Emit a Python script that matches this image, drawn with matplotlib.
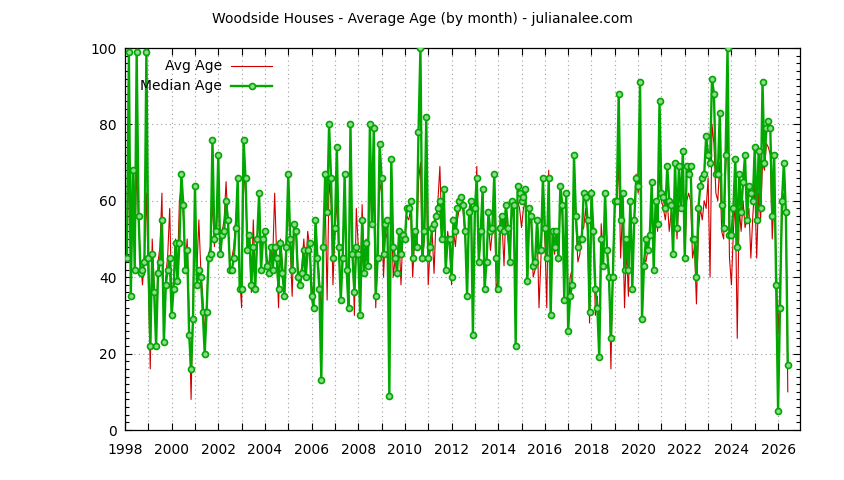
import numpy as np
import pandas as pd
import matplotlib
matplotlib.use("Agg")
import matplotlib.pyplot as plt
from matplotlib.lines import Line2D
from matplotlib.ticker import MultipleLocator, FuncFormatter

# monthly values, Feb 1998 .. mid 2026
start_month = "1998-02"

median_age = [
    45, 99, 35, 68, 42, 99, 56, 41, 42, 44, 99, 45, 22, 46, 36, 22, 41, 44, 55, 23,
    38, 42, 45, 30, 37, 49, 39, 49, 67, 59, 42, 47, 25, 16, 29, 64, 38, 42, 40, 31,
    20, 31, 45, 46, 76, 50, 52, 72, 46, 51, 52, 60, 55, 42,
    42, 45, 53, 66, 37, 37, 76, 66, 47, 51, 38, 48, 37, 50, 62, 42, 50, 52, 43, 41,
    48, 42, 48, 45, 37, 49, 41, 35, 48, 67, 50, 42, 54, 52, 40, 38, 41, 47, 40, 47,
    49, 35, 32, 55, 45, 37, 13, 48, 67, 57, 80, 66, 45, 53, 74, 48, 34, 45,
    67, 42, 32, 80, 46, 36, 48, 46, 30, 55, 41, 49, 43, 80, 54, 79, 35, 45, 75, 66,
    46, 54, 55, 9, 71, 48, 45, 41, 52, 46, 51, 50, 58, 58, 60, 45, 52, 48, 78, 100,
    45, 52, 82, 45, 48, 53, 54, 56, 58, 60, 50, 63, 42, 50, 50, 40, 55,
    52, 58, 60, 61, 59, 52, 35, 57, 60, 25, 58, 66, 44, 52, 63, 37, 44, 57, 52, 53,
    67, 45, 37, 53, 56, 52, 59, 53, 44, 60, 59, 22, 64, 62, 60, 61, 63, 39, 58, 56,
    43, 44, 55, 47, 47, 66, 53, 45, 66, 30, 52, 48, 52, 45, 64, 59, 34, 62, 26,
    35, 38, 72, 56, 48, 50, 50, 62, 61, 55, 31, 62, 52, 37, 32, 19, 50, 43, 62, 47,
    40, 24, 40, 60, 60, 88, 55, 62, 42, 50, 42, 60, 37, 55, 66, 64, 91, 29, 43, 50,
    47, 51, 65, 42, 60, 54, 86, 62, 61, 58, 69, 60, 59, 46, 70,
    53, 69, 58, 73, 45, 69, 67, 69, 50, 50, 40, 58, 64, 66, 67, 77, 72, 70, 92, 88,
    67, 67, 83, 59, 53, 72, 100, 51, 51, 58, 71, 48, 67, 57, 65, 72, 55, 64, 62, 60,
    74, 55, 73, 58, 91, 70, 79, 81, 79, 56, 72, 38, 5, 32, 60, 70, 57, 17,
]

avg_age = [
    47, 70, 40, 62, 46, 68, 55, 44, 38, 46, 62, 40, 16, 50, 38, 26, 44, 48, 62, 28,
    40, 46, 58, 34, 39, 50, 42, 60, 64, 56, 44, 50, 30, 8, 34, 58, 42, 55, 42, 35,
    25, 33, 46, 48, 60, 48, 54, 62, 47, 52, 55, 65, 54, 44,
    45, 48, 55, 62, 40, 32, 68, 62, 49, 50, 36, 55, 40, 50, 58, 44, 50, 50, 45, 43,
    47, 45, 62, 46, 32, 50, 43, 38, 50, 60, 48, 35, 52, 53, 42, 40, 43, 50, 42, 52,
    48, 38, 35, 52, 46, 40, 30, 46, 60, 34, 65, 60, 38, 52, 60, 47, 36, 47,
    62, 44, 35, 68, 50, 30, 58, 48, 36, 59, 43, 50, 46, 65, 55, 60, 32, 47, 65, 62,
    40, 52, 50, 35, 60, 40, 45, 43, 50, 38, 52, 50, 56, 55, 58, 40, 50, 47, 65, 70,
    44, 50, 68, 38, 48, 52, 41, 55, 60, 69, 52, 58, 42, 52, 48, 38, 52,
    48, 55, 58, 60, 57, 50, 40, 55, 58, 35, 56, 69, 44, 50, 60, 40, 45, 55, 47, 52,
    62, 36, 40, 56, 54, 43, 58, 50, 46, 58, 55, 30, 60, 58, 53, 58, 60, 38, 55, 54,
    40, 42, 54, 32, 45, 62, 50, 32, 68, 37, 50, 46, 50, 44, 60, 56, 38, 58, 30,
    40, 42, 62, 54, 44, 46, 52, 53, 58, 52, 28, 63, 50, 30, 35, 25, 54, 45, 58, 48,
    42, 16, 44, 58, 60, 70, 45, 58, 32, 48, 35, 58, 42, 55, 67, 62, 66, 35, 45, 44,
    47, 52, 60, 45, 58, 52, 68, 60, 58, 55, 60, 52, 57, 48, 62,
    50, 62, 58, 68, 44, 60, 62, 60, 45, 48, 33, 52, 58, 55, 60, 58, 66, 40, 80, 75,
    62, 60, 70, 52, 50, 68, 79, 45, 38, 52, 60, 24, 58, 52, 60, 53, 55, 58, 45, 56,
    64, 45, 62, 55, 70, 68, 75, 74, 72, 50, 62, 45, 25, 38, 55, 62, 58, 10,
]

title = "Woodside Houses - Average Age (by month) - julianalee.com"
RED = "#d00000"
GREEN = "#00a800"
MARKER_FILL = "#8fd88f"

dates = pd.date_range(start_month, periods=len(median_age), freq="MS")
years = dates.year + (dates.month - 1) / 12.0

plt.rcParams["font.family"] = ["DejaVu Sans"]

fig = plt.figure(figsize=(8.44, 4.8), dpi=100)
ax = fig.add_axes([125 / 844, 50 / 480, 675 / 844, 382 / 480])

ax.plot(years, avg_age, color=RED, lw=0.8, zorder=2)
ax.plot(years, median_age, color=GREEN, lw=1.7, marker="o", ms=4.3,
        mfc=MARKER_FILL, mec=GREEN, mew=1.2, zorder=3)

ax.set_xlim(1998, 2026.94)
ax.set_ylim(0, 100)

ax.xaxis.set_major_locator(MultipleLocator(1))
ax.xaxis.set_major_formatter(FuncFormatter(
    lambda v, p: "%d" % round(v) if round(v) % 2 == 0 else ""))
ax.yaxis.set_major_locator(MultipleLocator(20))
ax.yaxis.set_minor_locator(MultipleLocator(2))

ax.tick_params(which="both", direction="in", top=True, right=True,
               labelsize=10, width=0.8)
ax.tick_params(which="major", length=5)
ax.tick_params(which="minor", length=3)
ax.tick_params(axis="x", pad=9)
ax.tick_params(axis="y", pad=6)

ax.grid(True, which="major", color="#a0a0a0", ls=(0, (1, 3)), lw=0.8)
ax.set_axisbelow(True)
for s in ax.spines.values():
    s.set_linewidth(0.9)

# gnuplot-style key: right-justified text, sample to the right
ax.text(0.1437, 0.953, "Avg Age", transform=ax.transAxes, ha="right",
        va="center", fontsize=10)
ax.text(0.1437, 0.9005, "Median Age", transform=ax.transAxes, ha="right",
        va="center", fontsize=10)
ax.add_line(Line2D([0.157, 0.218], [0.953, 0.953], transform=ax.transAxes,
                   color=RED, lw=0.8))
ax.add_line(Line2D([0.157, 0.218], [0.9005, 0.9005], transform=ax.transAxes,
                   color=GREEN, lw=1.7))
ax.add_line(Line2D([0.188], [0.9005], transform=ax.transAxes, color=GREEN,
                   marker="o", ms=4.3, mfc=MARKER_FILL, mew=1.2))

fig.text(0.5, 1 - 19 / 480, title, ha="center", va="center", fontsize=10)

fig.savefig("out.png", dpi=100)
